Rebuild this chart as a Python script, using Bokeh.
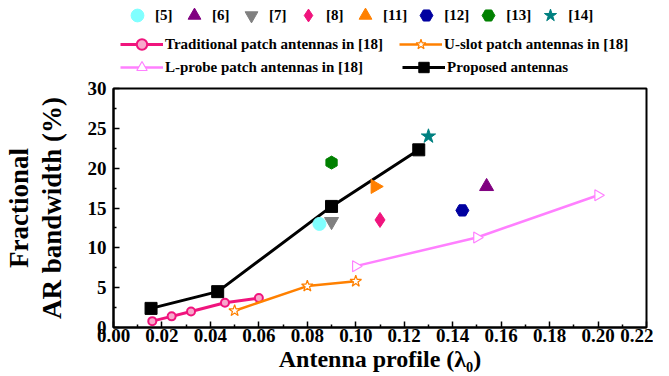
import math
from bokeh.plotting import figure
from bokeh.layouts import column
from bokeh.models import Legend, LegendItem, NumeralTickFormatter, FixedTicker, Range1d
from bokeh.embed import file_html
from bokeh.resources import INLINE

# ---- data ----
prop_x = [0.0155, 0.043, 0.090, 0.126]
prop_y = [2.4, 4.5, 15.2, 22.3]
trad_x = [0.016, 0.024, 0.032, 0.046, 0.060]
trad_y = [0.8, 1.4, 2.0, 3.1, 3.7]
uslot_x = [0.050, 0.080, 0.100]
uslot_y = [2.1, 5.2, 5.8]
lprobe_x = [0.100, 0.150, 0.200]
lprobe_y = [7.7, 11.3, 16.6]

ref_labels = ["[5]", "[6]", "[7]", "[8]", "[11]", "[12]", "[13]", "[14]"]
ref_x = [0.085, 0.154, 0.090, 0.110, 0.108, 0.144, 0.090, 0.130]
ref_y = [13.0, 17.7, 13.3, 13.5, 17.7, 14.7, 20.7, 24.0]

x_ticks = [0.00, 0.02, 0.04, 0.06, 0.08, 0.10, 0.12, 0.14, 0.16, 0.18, 0.20, 0.22]
y_ticks = [0, 5, 10, 15, 20, 25, 30]

FONT = "Liberation Serif"
PINK = "#F0147D"
PINK_FILL = "#F8A8CC"
ORANGE = "#FF8000"
VIOLET = "#FF80FF"

ref_markers = ["circle", "triangle", "inverted_triangle", "diamond", "triangle", "hex", "hex", "star"]
ref_colors = ["#80FFFF", "#800080", "#808080", PINK, ORANGE, "#0000A0", "#008000", "#008080"]
ref_angles = [0, 0, 0, 0, -math.pi / 2, 0, math.pi / 2, 0]
ref_sizes = [13, 14, 14, 15, 14, 13, 13, 15]


def draw_series(fig):
    r = {}
    r["l_trad"] = fig.line(trad_x, trad_y, line_color=PINK, line_width=3)
    r["s_trad"] = fig.scatter(trad_x, trad_y, marker="circle", size=8, fill_color=PINK_FILL,
                              line_color=PINK, line_width=2)
    r["l_us"] = fig.line(uslot_x, uslot_y, line_color=ORANGE, line_width=2.5)
    r["s_us"] = fig.scatter(uslot_x, uslot_y, marker="star", size=12, fill_color="white",
                            line_color=ORANGE, line_width=1.2)
    r["l_lp"] = fig.line(lprobe_x, lprobe_y, line_color=VIOLET, line_width=2.5)
    r["s_lp"] = fig.scatter(lprobe_x, lprobe_y, marker="triangle", angle=-math.pi / 2, size=11,
                            fill_color="white", line_color=VIOLET, line_width=1.2)
    r["l_pr"] = fig.line(prop_x, prop_y, line_color="black", line_width=3)
    r["s_pr"] = fig.scatter(prop_x, prop_y, marker="square", size=12, fill_color="black",
                            line_color="black")
    r["refs"] = []
    for xx, yy, mk, c, a, s in zip(ref_x, ref_y, ref_markers, ref_colors, ref_angles, ref_sizes):
        r["refs"].append(fig.scatter([xx], [yy], marker=mk, size=s, angle=a,
                                     fill_color=c, line_color=c))
    return r


# ---- main plot ----
p = figure(width=653, height=288, output_backend="svg", toolbar_location=None,
           x_range=Range1d(0, 0.22), y_range=Range1d(0, 30),
           frame_width=533, frame_height=239,
           min_border_left=113, min_border_top=12, min_border_right=7, min_border_bottom=37)
p.background_fill_color = "white"
p.border_fill_color = "white"
p.grid.visible = False
p.outline_line_color = "black"
p.outline_line_width = 2
p.outline_line_alpha = 1

for ax in (p.xaxis[0], p.yaxis[0]):
    ax.axis_line_width = 2
    ax.major_tick_in = 6
    ax.major_tick_out = 0
    ax.minor_tick_in = 3
    ax.minor_tick_out = 0
    ax.major_tick_line_width = 1.5
    ax.minor_tick_line_width = 1.5
    ax.major_label_text_font = FONT
    ax.major_label_text_font_style = "bold"
    ax.major_label_text_font_size = "19px"
    ax.major_label_text_color = "black"
    ax.axis_label_text_font = FONT
    ax.axis_label_text_font_style = "bold"
    ax.axis_label_text_color = "black"

p.xaxis.ticker = FixedTicker(ticks=x_ticks, minor_ticks=[0.01 + 0.02 * i for i in range(11)])
p.yaxis.ticker = FixedTicker(ticks=y_ticks, minor_ticks=[2.5 + 5 * i for i in range(6)])
p.xaxis.formatter = NumeralTickFormatter(format="0.00")
p.xaxis.major_label_standoff = 1
p.yaxis.major_label_standoff = 7
p.xaxis.axis_label = "Antenna profile (λ₀)"
p.xaxis.axis_label_text_font_size = "24px"
p.xaxis.axis_label_standoff = 1
p.yaxis.axis_label = "Fractional\nAR bandwidth (%)"
p.yaxis.axis_label_text_font_size = "27px"
p.yaxis.axis_label_standoff = 18
p.yaxis.axis_label_text_line_height = 1.1

draw_series(p)

# ---- legend strip: same series, drawn outside its visible range; legend keys only ----
top = figure(width=653, height=76, output_backend="svg", toolbar_location=None,
             x_range=Range1d(0, 0.22), y_range=Range1d(1000, 1001),
             x_axis_type=None, y_axis_type=None, frame_width=533, frame_height=76,
             min_border_left=113, min_border_right=7, min_border_top=0, min_border_bottom=0)
top.grid.visible = False
top.outline_line_color = None
top.background_fill_color = "white"
top.border_fill_color = "white"
k = draw_series(top)


def style_legend(lg, gw, gh, standoff, spacing, fs="15px"):
    lg.orientation = "horizontal"
    lg.label_text_font = FONT
    lg.label_text_font_style = "bold"
    lg.label_text_font_size = fs
    lg.label_text_color = "black"
    lg.glyph_width = gw
    lg.glyph_height = gh
    lg.label_height = gh
    lg.label_standoff = standoff
    lg.spacing = spacing
    lg.padding = 0
    lg.margin = 0
    lg.border_line_alpha = 0
    lg.background_fill_alpha = 0


lg1 = Legend(items=[LegendItem(label=l, renderers=[r]) for l, r in zip(ref_labels, k["refs"])],
             location=(8, 45))
style_legend(lg1, 32, 32, 2, 3)
lg2 = Legend(items=[LegendItem(label="Traditional patch antennas in [18]", renderers=[k["l_trad"], k["s_trad"]]),
                    LegendItem(label="U-slot patch antennas in [18]", renderers=[k["l_us"], k["s_us"]])],
             location=(7, 19))
style_legend(lg2, 43, 26, 2, 16)
lg3 = Legend(items=[LegendItem(label="L-probe patch antennas in [18]", renderers=[k["l_lp"], k["s_lp"]]),
                    LegendItem(label="Proposed antennas", renderers=[k["l_pr"], k["s_pr"]])],
             location=(7, -4))
style_legend(lg3, 43, 26, 2, 39)
for lg in (lg1, lg2, lg3):
    top.add_layout(lg)

layout = column(top, p, spacing=0)
open("out.html", "w").write(file_html(layout, INLINE))
